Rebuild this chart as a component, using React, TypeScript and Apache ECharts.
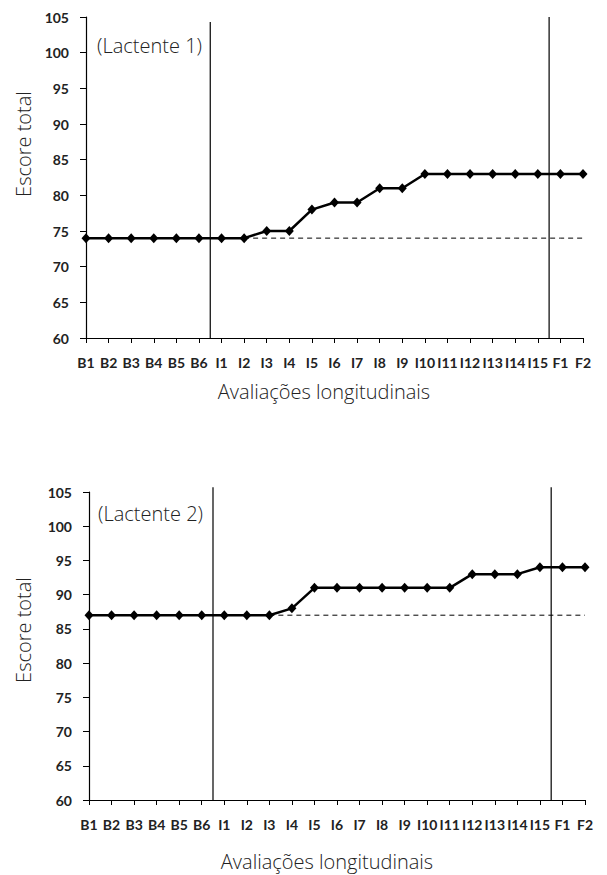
import React, { useEffect, useRef } from "react";
import * as echarts from "echarts";

const categories = [
  "B1", "B2", "B3", "B4", "B5", "B6",
  "I1", "I2", "I3", "I4", "I5", "I6", "I7", "I8", "I9", "I10", "I11", "I12", "I13", "I14", "I15",
  "F1", "F2",
];
const lactente1 = [74, 74, 74, 74, 74, 74, 74, 74, 75, 75, 78, 79, 79, 81, 81, 83, 83, 83, 83, 83, 83, 83, 83];
const lactente2 = [87, 87, 87, 87, 87, 87, 87, 87, 87, 88, 91, 91, 91, 91, 91, 91, 91, 93, 93, 93, 94, 94, 94];
const panelLabels = ["(Lactente 1)", "(Lactente 2)"];
const phaseBoundaries = [5.5, 20.5];
const yTicks = [60, 65, 70, 75, 80, 85, 90, 95, 100, 105];
const yTitle = "Escore total";
const xTitle = "Avaliações longitudinais";

const LABEL_FONT = "Lato, 'Open Sans', sans-serif";
const TITLE_FONT = "'Open Sans', Lato, sans-serif";
const TEXT_COLOR = "#222";

export default function App() {
  const ref = useRef<HTMLDivElement>(null);

  useEffect(() => {
    if (!ref.current) return;
    const chart = echarts.init(ref.current, undefined, { renderer: "svg" });

    const grids = [
      { left: 86, top: 17, width: 497, height: 321 },
      { left: 89, top: 492, width: 496, height: 308 },
    ];
    const datasets = [lactente1, lactente2];
    const lineTops = [
      [104.3, 105],
      [105.7, 105.7],
    ];

    const xAxes: any[] = [];
    const yAxes: any[] = [];
    const series: any[] = [];

    grids.forEach((g, gi) => {
      xAxes.push({
        type: "category",
        gridIndex: gi,
        data: categories,
        boundaryGap: false,
        axisLine: { lineStyle: { color: "#000", width: 1.2 } },
        axisTick: { show: true, length: 5, alignWithLabel: true, lineStyle: { color: "#000" }, interval: 0 },
        axisLabel: {
          interval: 0,
          margin: 17,
          fontFamily: LABEL_FONT,
          fontWeight: "bold",
          fontSize: 14,
          color: TEXT_COLOR,
        },
        splitLine: { show: false },
      });
      yAxes.push({
        type: "value",
        gridIndex: gi,
        min: yTicks[0],
        max: yTicks[yTicks.length - 1],
        interval: yTicks[1] - yTicks[0],
        axisLine: { show: true, lineStyle: { color: "#000", width: 1.2 } },
        axisTick: { show: true, length: 6, lineStyle: { color: "#000" } },
        axisLabel: {
          margin: 17,
          fontFamily: LABEL_FONT,
          fontWeight: "bold",
          fontSize: 14,
          color: TEXT_COLOR,
        },
        splitLine: { show: false },
      });
    });
    grids.forEach((_, gi) => {
      xAxes.push({
        type: "value",
        gridIndex: gi,
        min: 0,
        max: categories.length - 1,
        show: false,
      });
    });

    datasets.forEach((vals, gi) => {
      phaseBoundaries.forEach((b, bi) => {
        series.push({
          type: "line",
          xAxisIndex: 2 + gi,
          yAxisIndex: gi,
          data: [
            [b, yTicks[0]],
            [b, lineTops[gi][bi]],
          ],
          symbol: "none",
          clip: false,
          lineStyle: { color: "#000", width: 1.2 },
          z: 1,
          silent: true,
        });
      });
      const base = vals[0];
      let lastBase = 0;
      vals.forEach((v, i) => {
        if (v === base) lastBase = i;
      });
      series.push({
        type: "line",
        xAxisIndex: gi,
        yAxisIndex: gi,
        data: vals.map((_, i) => (i >= lastBase ? base : "-")),
        symbol: "none",
        lineStyle: { color: "#000", width: 1, type: [5, 4] },
        z: 2,
        silent: true,
      });
      series.push({
        type: "line",
        xAxisIndex: gi,
        yAxisIndex: gi,
        data: vals,
        symbol: "diamond",
        symbolSize: [9, 10],
        itemStyle: { color: "#000" },
        lineStyle: { color: "#000", width: 2.5 },
        z: 3,
      });
    });

    const titleFont = `300 20px ${TITLE_FONT}`;
    const base = { font: titleFont, fill: TEXT_COLOR, lineHeight: 20 };
    const graphic: any[] = [
      {
        type: "text",
        x: 97,
        y: 45,
        style: { ...base, text: panelLabels[0], verticalAlign: "middle" },
      },
      {
        type: "text",
        x: 98,
        y: 513,
        style: { ...base, text: panelLabels[1], verticalAlign: "middle" },
      },
      {
        type: "text",
        x: 23,
        y: 144,
        rotation: Math.PI / 2,
        style: { ...base, text: yTitle, align: "center", verticalAlign: "middle" },
      },
      {
        type: "text",
        x: 23,
        y: 630,
        rotation: Math.PI / 2,
        style: { ...base, text: yTitle, align: "center", verticalAlign: "middle" },
      },
      {
        type: "text",
        x: 324,
        y: 391,
        style: { ...base, text: xTitle, align: "center", verticalAlign: "middle" },
      },
      {
        type: "text",
        x: 327,
        y: 861,
        style: { ...base, text: xTitle, align: "center", verticalAlign: "middle" },
      },
    ];

    chart.setOption({
      animation: false,
      backgroundColor: "#fff",
      grid: grids,
      xAxis: xAxes,
      yAxis: yAxes,
      series,
      graphic,
    });

    return () => chart.dispose();
  }, []);

  return (
    <div
      ref={ref}
      style={{ position: "fixed", left: 0, top: 0, width: 607, height: 875 }}
    />
  );
}
